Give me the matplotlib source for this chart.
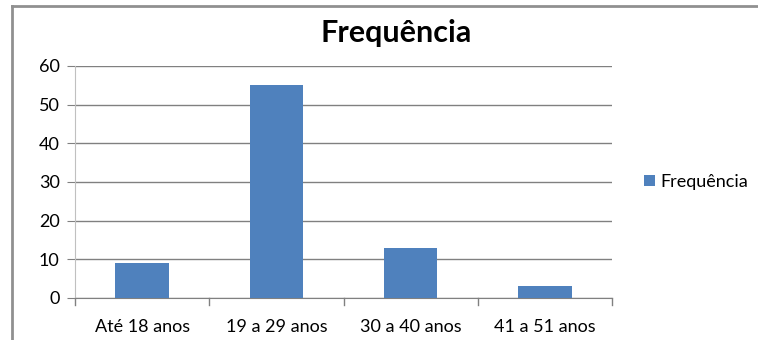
import matplotlib.pyplot as plt
from matplotlib.lines import Line2D

# data
categorias = ['Até 18 anos', '19 a 29 anos', '30 a 40 anos', '41 a 51 anos']
frequencia = [9, 55, 13, 3]
y_ticks = [0, 10, 20, 30, 40, 50, 60]

plt.rcParams['font.family'] = ['Lato', 'DejaVu Sans']

fig = plt.figure(figsize=(7.58, 3.40), dpi=100)
ax = fig.add_axes([75/758, 1 - 298/340, (612 - 75)/758, (298 - 66)/340])

x = range(len(categorias))
ax.bar(x, frequencia, width=0.4, color='#4f81bd', label='Frequência', zorder=3)

ax.set_xlim(-0.5, len(categorias) - 0.5)
ax.set_ylim(0, 60)
ax.set_yticks(y_ticks)
ax.set_xticks(x)
ax.set_xticklabels(categorias, fontsize=13)
ax.tick_params(axis='x', length=0, pad=15)
ax.tick_params(axis='y', labelsize=13, length=6, color='#808080', pad=5)

# category boundary ticks under the axis
for b in [-0.5, 0.5, 1.5, 2.5, 3.5]:
    ax.plot([b, b], [0, -1.8], color='#808080', lw=1, clip_on=False)

ax.grid(axis='y', color='#808080', lw=1, zorder=0)
for s in ['top', 'right']:
    ax.spines[s].set_visible(False)
ax.spines['left'].set_color('#c0c0c0')
ax.spines['bottom'].set_color('#808080')

fig.text(396/758, 1 - 33/340, 'Frequência', fontsize=22, fontweight='bold',
         ha='center', va='center')

ax.legend(loc='center left', bbox_to_anchor=(1.03, 0.5), frameon=False,
          fontsize=13, handlelength=0.6, handleheight=0.6, handletextpad=0.3)

# outer chart border (top and left only visible)
fig.add_artist(Line2D([12/758, 1], [1 - 6/340, 1 - 6/340], color='#909090', lw=2))
fig.add_artist(Line2D([12/758, 12/758], [0, 1 - 6/340], color='#909090', lw=2))

fig.savefig('out.png', dpi=100)
